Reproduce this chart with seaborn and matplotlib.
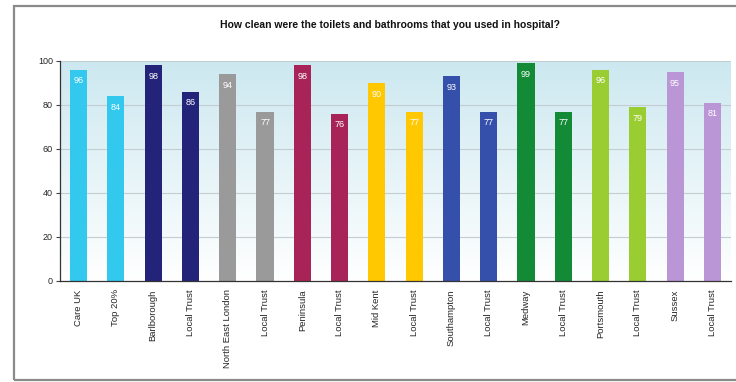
import numpy as np
import pandas as pd
import matplotlib
matplotlib.use("Agg")
import matplotlib.pyplot as plt
from matplotlib.patches import Rectangle
import seaborn as sns

categories = ["Care UK", "Top 20%", "Barlborough", "Local Trust", "North East London",
              "Local Trust", "Peninsula", "Local Trust", "Mid Kent", "Local Trust",
              "Southampton", "Local Trust", "Medway", "Local Trust", "Portsmouth",
              "Local Trust", "Sussex", "Local Trust"]
values = [96, 84, 98, 86, 94, 77, 98, 76, 90, 77, 93, 77, 99, 77, 96, 79, 95, 81]
bar_colors = ["#33C8EE", "#33C8EE", "#23237A", "#23237A", "#9A9A9A", "#9A9A9A",
              "#A82458", "#A82458", "#FFC800", "#FFC800", "#3550AA", "#3550AA",
              "#128A36", "#128A36", "#9ACD32", "#9ACD32", "#BB96D6", "#BB96D6"]
y_ticks = [0, 20, 40, 60, 80, 100]

sns.set_theme(style="white")
plt.rcParams["font.family"] = ["Liberation Sans", "DejaVu Sans"]

df = pd.DataFrame({"slot": [str(i) for i in range(len(values))],
                   "value": values})

fig = plt.figure(figsize=(7.36, 3.82), dpi=100)
ax = fig.add_axes([60 / 736, 1 - 281 / 382, (731 - 60) / 736, 220 / 382])

# soft blue-to-white gradient behind the bars
grad = np.linspace(0, 1, 256).reshape(-1, 1)
top = np.array([0.80, 0.91, 0.94])
bot = np.array([1.0, 1.0, 1.0])
img = top[None, None, :] * (1 - grad[:, :, None]) + bot[None, None, :] * grad[:, :, None]
ax.imshow(img, extent=[-0.5, len(values) - 0.5, 0, 100], aspect="auto",
          zorder=0, origin="upper")

sns.barplot(data=df, x="slot", y="value", hue="slot", palette=bar_colors,
            legend=False, width=0.46, ax=ax, zorder=2, saturation=1,
            linewidth=0, edgecolor="none")

for i, v in enumerate(values):
    ax.text(i, v - 3.0, str(v), ha="center", va="top", color="white",
            fontsize=6.5, zorder=3)

ax.set_xlim(-0.5, len(values) - 0.5)
ax.set_ylim(0, 100)
ax.set_yticks(y_ticks)
ax.set_yticklabels([str(t) for t in y_ticks], fontsize=6.5)
ax.set_xticks(range(len(values)))
ax.set_xticklabels(categories, rotation=90, fontsize=6.8)
ax.set_xticks(np.arange(-0.5, len(values)), minor=True)
ax.tick_params(axis="x", which="major", length=0, pad=6)
ax.tick_params(axis="x", which="minor", length=3, width=0.8, direction="inout", color="#444444")
ax.tick_params(axis="y", length=3, width=0.8, color="#444444", left=True, pad=2)
ax.set_xlabel("")
ax.set_ylabel("")

for t in y_ticks[1:]:
    ax.axhline(t, color="#C4CED2", lw=0.8, zorder=1)

for s in ["top", "right"]:
    ax.spines[s].set_visible(False)
for s in ["left", "bottom"]:
    ax.spines[s].set_color("#333333")
    ax.spines[s].set_linewidth(0.9)

fig.text(390 / 736, 1 - 25 / 382,
         "How clean were the toilets and bathrooms that you used in hospital?",
         ha="center", va="center", fontsize=7.5, fontweight="bold", color="#111111")

frame = Rectangle((14 / 736, 2 / 382), 740 / 736, 374 / 382, transform=fig.transFigure,
                  fill=False, edgecolor="#8A8A8A", lw=1.6, zorder=10)
fig.patches.append(frame)

fig.savefig("out.png", dpi=100)
